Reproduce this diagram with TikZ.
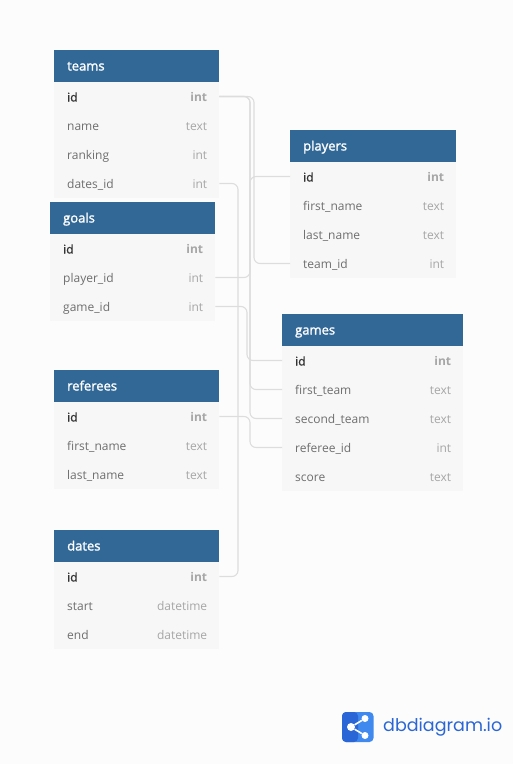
\documentclass[tikz,border=0pt]{standalone}
\usepackage{fontspec}
\setmainfont{Open Sans}
\newfontfamily\semifont[FakeBold=1]{Open Sans}
\newfontfamily\headfont[FakeBold=1.6]{Open Sans}
\newfontfamily\logofont{Poppins}
\definecolor{pagegray}{HTML}{FCFCFC}
\definecolor{rowgray}{HTML}{F7F7F7}
\definecolor{headblue}{HTML}{316896}
\definecolor{relgray}{HTML}{DDDDDD}
\definecolor{namegray}{HTML}{6E6E6E}
\definecolor{typegray}{HTML}{A6A6A6}
\definecolor{logoblue}{HTML}{2A66D6}
\definecolor{logolight}{HTML}{4089EE}
\tikzset{
  tablehead/.style={anchor=west, fill=headblue, text=white, font=\fontsize{13}{15}\headfont, minimum height=32pt, inner xsep=13pt, inner ysep=0pt, text height=11pt, text depth=2pt, text width=#1, align=left},
  colname/.style={anchor=west, fill=rowgray, text=namegray, font=\fontsize{12}{14}\selectfont, minimum height=29pt, inner xsep=13pt, inner ysep=0pt, text height=12pt, text depth=2pt, text width=#1, align=left},
  colkey/.style={colname=#1, text=black!80, font=\fontsize{12}{14}\semifont},
  coltype/.style={anchor=east, text=typegray, font=\fontsize{12}{14}\selectfont, inner xsep=12pt, inner ysep=0pt, text height=12pt, text depth=2pt},
  keytype/.style={coltype, font=\fontsize{12}{14}\selectfont\bfseries},
  relline/.style={draw=relgray, line width=1.1pt, rounded corners=6pt},
}
\begin{document}
\begin{tikzpicture}[x=1pt,y=-1pt]
\fill [pagegray] (0,0) rectangle (513,764);
\useasboundingbox (0,0) rectangle (513,764);
\node [tablehead=139pt] (teams) at (54,66) {teams};
\node [colkey=139pt] (teamsid) at (54,96.5) {id};
\node [colname=139pt] (teamsname) at (54,125.5) {name};
\node [colname=139pt] (teamsranking) at (54,154.5) {ranking};
\node [colname=139pt] (teamsdates) at (54,183.5) {dates\_id};
\node [keytype] (teamsidtype) at (teamsid.east) {int};
\node [coltype] (teamsnametype) at (teamsname.east) {text};
\node [coltype] (teamsrankingtype) at (teamsranking.east) {int};
\node [coltype] (teamsdatestype) at (teamsdates.east) {int};
\node [tablehead=139pt] (goals) at (50,218) {goals};
\node [colkey=139pt] (goalsid) at (50,248.5) {id};
\node [colname=139pt] (goalsplayer) at (50,277.5) {player\_id};
\node [colname=139pt] (goalsgame) at (50,306.5) {game\_id};
\node [keytype] (goalsidtype) at (goalsid.east) {int};
\node [coltype] (goalsplayertype) at (goalsplayer.east) {int};
\node [coltype] (goalsgametype) at (goalsgame.east) {int};
\node [tablehead=139pt] (referees) at (54,386) {referees};
\node [colkey=139pt] (refereesid) at (54,416.5) {id};
\node [colname=139pt] (refereesfirst) at (54,445.5) {first\_name};
\node [colname=139pt] (refereeslast) at (54,474.5) {last\_name};
\node [keytype] (refereesidtype) at (refereesid.east) {int};
\node [coltype] (refereesfirsttype) at (refereesfirst.east) {text};
\node [coltype] (refereeslasttype) at (refereeslast.east) {text};
\node [tablehead=139pt] (dates) at (54,546) {dates};
\node [colkey=139pt] (datesid) at (54,576.5) {id};
\node [colname=139pt] (datesstart) at (54,605.5) {start};
\node [colname=139pt] (datesend) at (54,634.5) {end};
\node [keytype] (datesidtype) at (datesid.east) {int};
\node [coltype] (datesstarttype) at (datesstart.east) {datetime};
\node [coltype] (datesendtype) at (datesend.east) {datetime};
\node [tablehead=140pt] (players) at (290,146) {players};
\node [colkey=140pt] (playersid) at (290,176.5) {id};
\node [colname=140pt] (playersfirst) at (290,205.5) {first\_name};
\node [colname=140pt] (playerslast) at (290,234.5) {last\_name};
\node [colname=140pt] (playersteam) at (290,263.5) {team\_id};
\node [keytype] (playersidtype) at (playersid.east) {int};
\node [coltype] (playersfirsttype) at (playersfirst.east) {text};
\node [coltype] (playerslasttype) at (playerslast.east) {text};
\node [coltype] (playersteamtype) at (playersteam.east) {int};
\node [tablehead=155pt] (games) at (282,330) {games};
\node [colkey=155pt] (gamesid) at (282,360.5) {id};
\node [colname=155pt] (gamesfirst) at (282,389.5) {first\_team};
\node [colname=155pt] (gamessecond) at (282,418.5) {second\_team};
\node [colname=155pt] (gamesreferee) at (282,447.5) {referee\_id};
\node [colname=155pt] (gamesscore) at (282,476.5) {score};
\node [keytype] (gamesidtype) at (gamesid.east) {int};
\node [coltype] (gamesfirsttype) at (gamesfirst.east) {text};
\node [coltype] (gamessecondtype) at (gamessecond.east) {text};
\node [coltype] (gamesrefereetype) at (gamesreferee.east) {int};
\node [coltype] (gamesscoretype) at (gamesscore.east) {text};
\coordinate (lanedates) at (238,0);
\coordinate (lanegame) at (247,0);
\coordinate (lanemid) at (250,0);
\coordinate (laneteam) at (254,0);
\draw [relline] (teamsid.east) -- (teamsid.east -| laneteam) -- (playersteam.west -| laneteam) -- (playersteam.west);
\draw [relline] (goalsplayer.east) -- (goalsplayer.east -| lanemid) -- (playersid.west -| lanemid) -- (playersid.west);
\draw [relline] (teamsid.east) -- (teamsid.east -| lanemid) -- (gamesfirst.west -| lanemid) -- (gamesfirst.west);
\draw [relline] (teamsid.east) -- (teamsid.east -| lanemid) -- (gamessecond.west -| lanemid) -- (gamessecond.west);
\draw [relline] (goalsgame.east) -- (goalsgame.east -| lanegame) -- (gamesid.west -| lanegame) -- (gamesid.west);
\draw [relline] (refereesid.east) -- (refereesid.east -| lanemid) -- (gamesreferee.west -| lanemid) -- (gamesreferee.west);
\draw [relline] (teamsdates.east) -- (teamsdates.east -| lanedates) -- (datesid.east -| lanedates) -- (datesid.east);
\fill [logolight, rounded corners=4pt] (342,712) rectangle (373.5,742);
\fill [logoblue, rounded corners=4pt] (342,712) -- (358,712) -- (358,742) -- (342,742) -- cycle;
\node [circle, fill=white, minimum size=8pt, inner sep=0pt] (logoleft) at (351,727) {};
\node [circle, fill=white, minimum size=7pt, inner sep=0pt] (logoup) at (365,718.5) {};
\node [circle, fill=white, minimum size=7pt, inner sep=0pt] (logodown) at (365,735.5) {};
\draw [white, line width=1.6pt] (logoup) -- (logoleft) -- (logodown);
\node [anchor=west, inner sep=0pt, text=logoblue, font=\logofont\fontsize{17.5}{22}\selectfont] (logotext) at (383,727) {dbdiagram.io};
\end{tikzpicture}
\end{document}
